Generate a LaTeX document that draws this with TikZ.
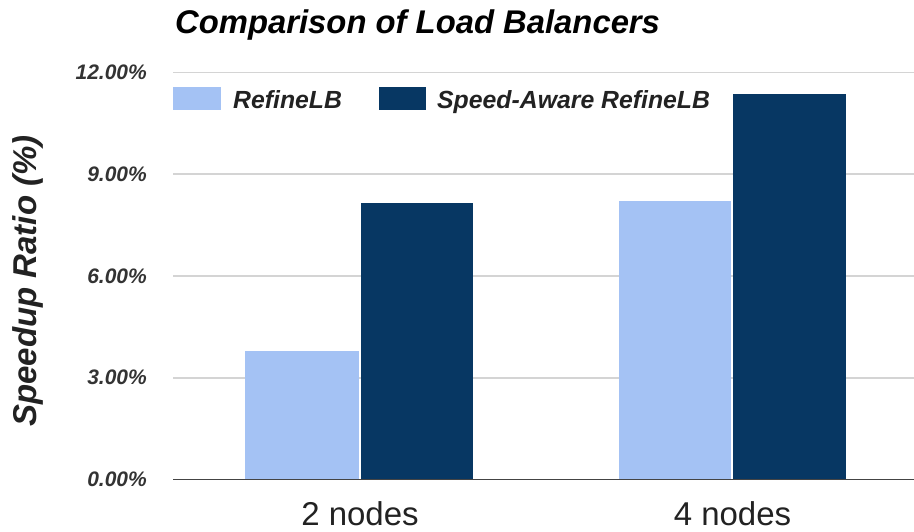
\documentclass[tikz,border=0pt]{standalone}
\usepackage{fontspec}
\setmainfont{Liberation Sans}
\definecolor{lightbar}{HTML}{A4C2F4}
\definecolor{darkbar}{HTML}{073763}
\definecolor{gridc}{HTML}{D4D4D4}
\definecolor{axisc}{HTML}{444444}
\definecolor{tickc}{HTML}{333333}
\definecolor{txtc}{HTML}{222222}
\begin{document}
\begin{tikzpicture}[x=1pt,y=-1pt,
  gridline/.style={gridc,line width=1.6pt},
  axisline/.style={axisc,line width=1.6pt},
  ticklab/.style={anchor=east,inner sep=0pt,text=tickc,font=\fontsize{21}{21}\selectfont\bfseries\itshape},
  legtext/.style={anchor=base west,inner sep=0pt,text=txtc,font=\fontsize{24.8}{25}\selectfont\bfseries\itshape},
  catlab/.style={anchor=base,inner sep=0pt,text=txtc,font=\fontsize{33}{33}\selectfont},
  lbar/.style={fill=lightbar,draw=none},
  dbar/.style={fill=darkbar,draw=none}]
\useasboundingbox (0,0) rectangle (914,531);
\fill[white] (0,0) rectangle (914,531);
% title
\node[anchor=base west,inner sep=0pt,font=\fontsize{32.8}{33}\selectfont\bfseries\itshape] (title) at (175,33) {Comparison of Load Balancers};
% gridlines
\foreach \yy in {72.3,174.1,275.9,377.7}{
  \draw[gridline] (173,\yy) -- (914,\yy);
}
% tick labels
\node[ticklab] (t12) at (147,72.3) {12.00\%};
\node[ticklab] (t9) at (147,174.1) {9.00\%};
\node[ticklab] (t6) at (147,275.9) {6.00\%};
\node[ticklab] (t3) at (147,377.7) {3.00\%};
\node[ticklab] (t0) at (147,479.5) {0.00\%};
% y label
\node[rotate=90,inner sep=0pt,text=txtc,font=\fontsize{33}{33}\selectfont\bfseries\itshape] (ylab) at (28,281) {Speedup Ratio (\%)};
% bars
\fill[lbar] (245,351) rectangle (359,479.5);
\fill[dbar] (361,203) rectangle (473,479.5);
\fill[lbar] (619,201) rectangle (731,479.5);
\fill[dbar] (733,94) rectangle (846,479.5);
% axis
\draw[axisline] (173,479.5) -- (914,479.5);
% legend
\fill[lbar] (173,87) rectangle (221,110);
\node[legtext] (l1) at (233,108) {RefineLB};
\fill[dbar] (379,87) rectangle (426,110);
\node[legtext] (l2) at (437,108) {Speed-Aware RefineLB};
% categories
\node[catlab] (c1) at (360,525.5) {2 nodes};
\node[catlab] (c2) at (732.5,525.5) {4 nodes};
\end{tikzpicture}
\end{document}
